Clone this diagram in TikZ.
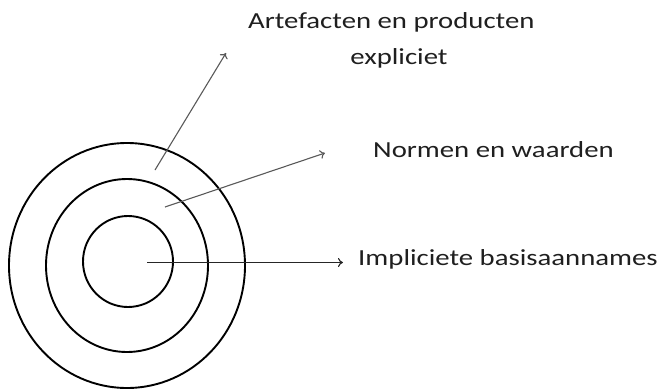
\documentclass[tikz,border=0pt]{standalone}
\usepackage{fontspec}
\setmainfont{Carlito}[FakeStretch=1.25]
\usetikzlibrary{arrows.meta}
\begin{document}
\begin{tikzpicture}[x=1pt,y=-1pt,
  ring/.style={draw=black,line width=1.9pt},
  pointer/.style={draw=#1,line width=1.1pt,-{To[length=5pt,width=9pt]}},
  lbl/.style={inner sep=0pt,font=\fontsize{23}{28}\selectfont,text=black!88}]
\useasboundingbox (0,0) rectangle (670,389);
% rings
\draw[ring] (127,265.5) ellipse [x radius=118pt, y radius=122.5pt];
\draw[ring] (127,265.5) ellipse [x radius=81pt, y radius=86.5pt];
\draw[ring] (128,261.5) ellipse [x radius=45pt, y radius=45.5pt];
% labels
\node[lbl,anchor=base west] (art) at (248,28) {Artefacten en producten};
\node[lbl,anchor=base] (expl) at (399,64) {expliciet};
\node[lbl,anchor=base west] (norm) at (373,157) {Normen en waarden};
\node[lbl,anchor=base west] (impl) at (358,265) {Impliciete basisaannames};
% arrow ends
\coordinate (a0) at (155,170);
\coordinate (a1) at (226,53);
\coordinate (n0) at (165,207);
\coordinate (n1) at (325,153);
\coordinate (i0) at (147,262.5);
\coordinate (i1) at (343,262.5);
\draw[pointer=black!65] (a0) -- (a1);
\draw[pointer=black!65] (n0) -- (n1);
\draw[pointer=black!85] (i0) -- (i1);
\end{tikzpicture}
\end{document}
